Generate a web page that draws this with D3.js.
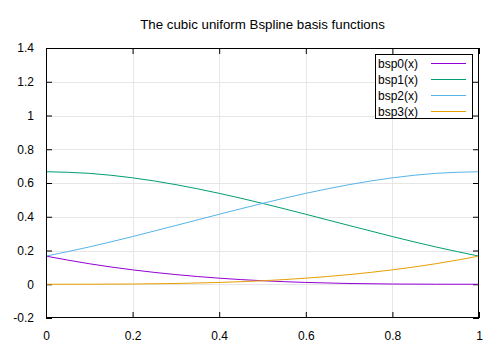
<!DOCTYPE html>
<html>
<head>
<meta charset="utf-8">
<script src="https://cdn.jsdelivr.net/npm/d3@7/dist/d3.min.js"></script>
<style>
  html, body { margin: 0; padding: 0; background: #fff; }
  svg { display: block; font-family: "Liberation Sans", Arial, sans-serif; }
</style>
</head>
<body>
<svg id="chart" width="500" height="350"></svg>
<script>
const title = "The cubic uniform Bspline basis functions";
const xValues = [0, 0.1, 0.2, 0.3, 0.4, 0.5, 0.6, 0.7, 0.8, 0.9, 1.0];
const bsp0 = [0.1667, 0.1215, 0.0853, 0.0572, 0.0360, 0.0208, 0.0107, 0.0045, 0.0013, 0.0002, 0.0];
const bsp1 = [0.6667, 0.6572, 0.6307, 0.5902, 0.5387, 0.4792, 0.4147, 0.3482, 0.2827, 0.2212, 0.1667];
const bsp2 = [0.1667, 0.2212, 0.2827, 0.3482, 0.4147, 0.4792, 0.5387, 0.5902, 0.6307, 0.6572, 0.6667];
const bsp3 = [0.0, 0.0002, 0.0013, 0.0045, 0.0107, 0.0208, 0.0360, 0.0572, 0.0853, 0.1215, 0.1667];
const seriesNames = ["bsp0(x)", "bsp1(x)", "bsp2(x)", "bsp3(x)"];
const seriesColors = ["#9400d3", "#009e73", "#56b4e9", "#e69f00"];
const xTicks = [0, 0.2, 0.4, 0.6, 0.8, 1];
const yTicks = [-0.2, 0, 0.2, 0.4, 0.6, 0.8, 1, 1.2, 1.4];

(function () {
const series = [bsp0, bsp1, bsp2, bsp3];
const svg = d3.select("#chart");
const L = 46, R = 479, T = 48, B = 318;
const x = d3.scaleLinear().domain([0, 1]).range([L, R]);
const y = d3.scaleLinear().domain([-0.2, 1.4]).range([B, T]);

// grid
const grid = svg.append("g");
grid.selectAll("line.vx").data(xTicks.slice(1, -1)).join("line")
  .attr("x1", d => Math.round(x(d)) + 0.5).attr("x2", d => Math.round(x(d)) + 0.5)
  .attr("y1", T).attr("y2", B).attr("stroke", "#e6e6e6").attr("stroke-width", 1);
grid.selectAll("line.hy").data(yTicks.slice(1, -1)).join("line")
  .attr("y1", d => Math.round(y(d)) + 0.5).attr("y2", d => Math.round(y(d)) + 0.5)
  .attr("x1", L).attr("x2", R).attr("stroke", "#e6e6e6").attr("stroke-width", 1);

// axes with inward ticks
const fmt = d => String(+(+d).toFixed(1));
const tickLen = 6;
const gBottom = svg.append("g").attr("transform", `translate(0,${B})`)
  .call(d3.axisBottom(x).tickValues(xTicks).tickFormat(fmt).tickSizeInner(-tickLen).tickSizeOuter(0).tickPadding(13));
const gTop = svg.append("g").attr("transform", `translate(0,${T})`)
  .call(d3.axisTop(x).tickValues(xTicks).tickFormat("").tickSizeInner(-tickLen).tickSizeOuter(0));
const gLeft = svg.append("g").attr("transform", `translate(${L},0)`)
  .call(d3.axisLeft(y).tickValues(yTicks).tickFormat(fmt).tickSizeInner(-tickLen).tickSizeOuter(0).tickPadding(12));
const gRight = svg.append("g").attr("transform", `translate(${R},0)`)
  .call(d3.axisRight(y).tickValues(yTicks).tickFormat("").tickSizeInner(-tickLen).tickSizeOuter(0));
[gBottom, gTop, gLeft, gRight].forEach(g => {
  g.select(".domain").remove();
  g.selectAll("line").attr("stroke", "#000");
  g.selectAll("text").attr("font-size", 12).attr("fill", "#000")
    .attr("font-family", "Liberation Sans, Arial, sans-serif");
});

// lines
const line = d3.line().x((d, i) => x(xValues[i])).y(d => y(d)).curve(d3.curveMonotoneX);
svg.append("g").selectAll("path").data(series).join("path")
  .attr("d", line).attr("fill", "none")
  .attr("stroke", (d, i) => seriesColors[i]).attr("stroke-width", 1);

// border
svg.append("rect").attr("x", L + 0.5).attr("y", T + 0.5)
  .attr("width", R - L - 1).attr("height", B - T - 1)
  .attr("fill", "none").attr("stroke", "#000").attr("stroke-width", 1);

// legend
const lg = svg.append("g");
lg.append("rect").attr("x", 375.5).attr("y", 54.5).attr("width", 97).attr("height", 64)
  .attr("fill", "#fff").attr("stroke", "#000").attr("stroke-width", 1);
const rows = lg.selectAll("g.row").data(seriesNames).join("g")
  .attr("transform", (d, i) => `translate(0,${63 + i * 16})`);
rows.append("text").attr("x", 378).attr("y", 4.5).attr("font-size", 12)
  .attr("fill", "#000").text(d => d);
rows.append("line").attr("x1", 431).attr("x2", 466).attr("y1", 0.5).attr("y2", 0.5)
  .attr("stroke", (d, i) => seriesColors[seriesNames.indexOf(d)]).attr("stroke-width", 1);

// title
svg.append("text").attr("x", (L + R) / 2).attr("y", 28.5).attr("text-anchor", "middle")
  .attr("font-size", 13.3).attr("fill", "#000").text(title);
})();
</script>
</body>
</html>
